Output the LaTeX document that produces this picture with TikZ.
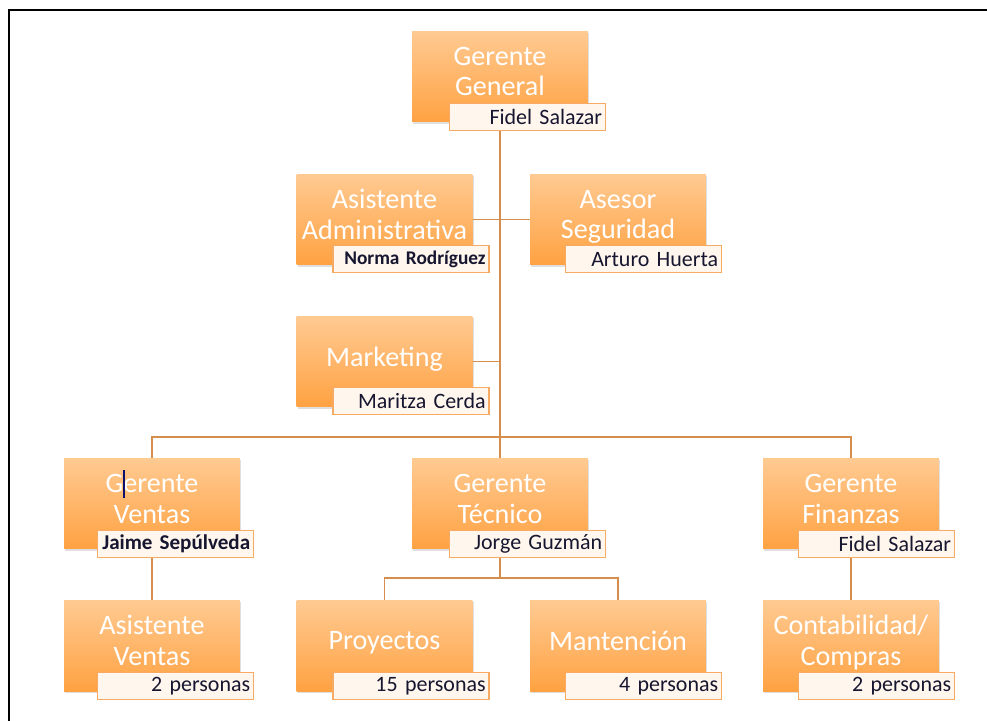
\documentclass[tikz,border=0pt]{standalone}
\usepackage{fontspec}
\setmainfont{Carlito}
\usetikzlibrary{positioning,shadows}

\definecolor{cajaclara}{RGB}{255,202,146}
\definecolor{cajaoscura}{RGB}{255,162,66}
\definecolor{linea}{RGB}{214,142,78}
\definecolor{borde}{RGB}{246,170,100}
\definecolor{crema}{RGB}{255,246,237}
\definecolor{tinta}{RGB}{22,22,48}

\tikzset{
  cargo/.style={rectangle, minimum width=3.52cm, minimum height=1.82cm, inner sep=0pt,
    top color=cajaclara, bottom color=cajaoscura, text=white, align=center,
    text depth=0.2cm, font=\fontsize{16}{17.5}\selectfont,
    drop shadow={opacity=0.25, shadow xshift=0.6pt, shadow yshift=-1pt}},
  nombre/.style={rectangle, draw=borde, line width=0.8pt, fill=crema,
    minimum width=3.12cm, minimum height=0.54cm, text width=2.98cm, inner xsep=0.07cm,
    inner ysep=0pt, align=right, text=tinta, font=\fontsize{12.5}{13}\selectfont, anchor=south east},
  chico/.style={font=\fontsize{11}{12}\selectfont\bfseries},
  rama/.style={draw=linea, line width=0.9pt}
}

\begin{document}
\begin{tikzpicture}[x=0.02cm, y=-0.02cm]
    \useasboundingbox (0,0) rectangle (987,720);
    \draw[line width=1.3pt] (9,740) -- (9,10) -- (1000,10);

    % gerencia
    \node[cargo] (gg) at (500,76.5) {Gerente\\General};
    \node[nombre] (ggn) at ([shift={(18,9)}]gg.south east) {Fidel Salazar};

    \node[cargo] (aa) at (384.5,219.5) {Asistente\\Administrativa};
    \node[nombre, chico] (aan) at ([shift={(17,8)}]aa.south east) {Norma Rodríguez};
    \node[cargo] (as) at (618,219.5) {Asesor\\Seguridad};
    \node[nombre] (asn) at ([shift={(16,8)}]as.south east) {Arturo Huerta};

    \node[cargo] (mk) at (384.5,361.5) {Marketing};
    \node[nombre] (mkn) at ([shift={(17,8)}]mk.south east) {Maritza Cerda};

    % gerentes de area
    \node[cargo] (gv) at (152,503.5) {Gerente\\Ventas};
    \node[nombre, chico, font=\fontsize{12}{13}\selectfont\bfseries] (gvn) at ([shift={(14,9)}]gv.south east) {Jaime Sepúlveda};
    \node[cargo] (gt) at (500,503.5) {Gerente\\Técnico};
    \node[nombre] (gtn) at ([shift={(18,9)}]gt.south east) {Jorge Guzmán};
    \node[cargo] (gf) at (851,503.5) {Gerente\\Finanzas};
    \node[nombre] (gfn) at ([shift={(16,9)}]gf.south east) {Fidel Salazar};

    % personal
    \node[cargo] (av) at (152,645.5) {Asistente\\Ventas};
    \node[nombre] (avn) at ([shift={(14,9)}]av.south east) {2 personas};
    \node[cargo] (pr) at (384.5,645.5) {Proyectos};
    \node[nombre] (prn) at ([shift={(17,9)}]pr.south east) {15 personas};
    \node[cargo] (mn) at (618,645.5) {Mantención};
    \node[nombre] (mnn) at ([shift={(16,9)}]mn.south east) {4 personas};
    \node[cargo] (cc) at (851,645.5) {Contabilidad/\\Compras};
    \node[nombre] (ccn) at ([shift={(16,9)}]cc.south east) {2 personas};

    \draw[color=tinta!70!blue, line width=0.9pt] (124,470) -- (124,498);

    % lineas
    \coordinate (bus) at (500,437);
    \coordinate (tec) at (500,578);
    \draw[rama] (gg |- ggn.south) -- (bus);
    \draw[rama] (aa.east) -- (as.west);
    \draw[rama] (mk.east) -- (mk.east -| gg);
    \draw[rama] (gv.north) |- (bus) -| (gf.north);
    \draw[rama] (bus) -- (gt.north);
    \draw[rama] (gv |- gvn.south) -- (av.north);
    \draw[rama] (gt |- gtn.south) -- (tec);
    \draw[rama] (pr.north) |- (tec) -| (mn.north);
    \draw[rama] (gf |- gfn.south) -- (cc.north);
\end{tikzpicture}
\end{document}
